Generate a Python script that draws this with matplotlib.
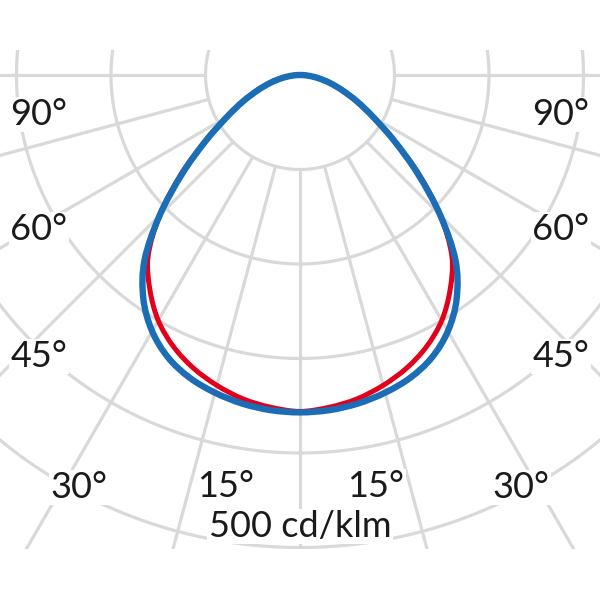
import numpy as np
import matplotlib.pyplot as plt
from matplotlib.patches import Rectangle, PathPatch
from matplotlib.path import Path

# luminous intensity, cd/klm, symmetric about 0 deg
angles = [0, 5, 10, 15, 20, 25, 30, 35, 40, 45, 50, 55, 60, 65, 70, 75, 80, 85, 90]
c0_c180 = [357, 356, 353, 348, 341, 330, 313, 289, 256, 210, 163, 122, 90, 67, 48, 33, 20, 9, 0]
c90_c270 = [356, 353, 348, 340, 330, 317, 300, 277, 250, 210, 165, 123, 90, 67, 48, 33, 20, 9, 0]

rings = [100, 200, 300, 400, 500]
spokes = [-90, -75, -60, -45, -30, -15, 0, 15, 30, 45, 60, 75, 90]
angle_labels = ['90°', '60°', '45°', '30°', '15°']
scale_label = '500 cd/klm'

GRID = '#d9d9d9'
BLUE = '#1b6db5'
RED = '#e3001b'

plt.rcParams['font.family'] = ['Lato', 'DejaVu Sans']

px = 100 / 94.5  # data units per pixel
fig = plt.figure(figsize=(6, 6), dpi=100)
ax = fig.add_axes([0, 0, 1, 1])
ax.set_xlim(-300 * px, 300 * px)
ax.set_ylim(-525 * px, 75 * px)
ax.set_aspect('equal')
ax.axis('off')

clip = Rectangle((-300 * px, -474 * px), 600 * px, 499 * px, transform=ax.transData)

t = np.linspace(0, 2 * np.pi, 721)
for r in rings:
    ln, = ax.plot(r * np.sin(t), r * np.cos(t), color=GRID, lw=2.3, zorder=1)
    ln.set_clip_path(clip)
for a in spokes:
    a_r = np.radians(a)
    ln, = ax.plot([100 * np.sin(a_r), 700 * np.sin(a_r)],
                  [-100 * np.cos(a_r), -700 * np.cos(a_r)],
                  color=GRID, lw=2.3, zorder=1, solid_capstyle='butt')
    ln.set_clip_path(clip)


def curve_path(vals):
    # closed loop from -90 to +85 deg, drawn as smooth Bezier through the points
    th = np.radians(np.concatenate([-np.array(angles[::-1]), np.array(angles[1:-1])]))
    r = np.concatenate([np.array(vals[::-1]), np.array(vals[1:-1])])
    p = np.column_stack([r * np.sin(th), -r * np.cos(th)])
    n = len(p)
    verts = [p[0]]
    codes = [Path.MOVETO]
    for i in range(n):
        p0, p1, p2, p3 = p[i - 1], p[i], p[(i + 1) % n], p[(i + 2) % n]
        verts += [p1 + (p2 - p0) / 6, p2 - (p3 - p1) / 6, p2]
        codes += [Path.CURVE4] * 3
    return Path(verts, codes)


ax.add_patch(PathPatch(curve_path(c90_c270), facecolor='none', edgecolor=RED,
                       lw=3.6, zorder=3, joinstyle='round'))
ax.add_patch(PathPatch(curve_path(c0_c180), facecolor='none', edgecolor=BLUE,
                       lw=4.6, zorder=4, joinstyle='round'))

box = dict(facecolor='white', edgecolor='none', pad=1)
label_px = [(39, 125), (39, 240), (39, 367), (79, 498), (226, 497)]
for txt, (lx, ly) in zip(angle_labels, label_px):
    for sx in (lx, 600 - lx + (2 if txt == '15°' else 0)):
        ax.text((sx - 300) * px, -(ly - 75) * px, txt, ha='center', va='baseline',
                fontsize=26, color='#1a1a1a', bbox=box, zorder=2)
ax.text(0, -(537 - 75) * px, scale_label, ha='center', va='baseline',
        fontsize=26, color='#1a1a1a', bbox=box, zorder=2)

fig.savefig('out.png', dpi=100, facecolor='white')
